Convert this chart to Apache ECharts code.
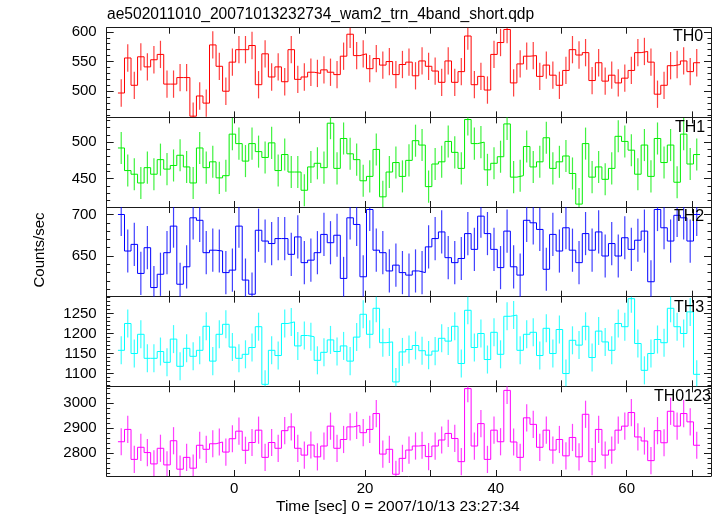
<!DOCTYPE html>
<html><head><meta charset="utf-8">
<script src="https://cdn.jsdelivr.net/npm/echarts@6/dist/echarts.min.js"></script>
<style>html,body{margin:0;padding:0;background:#fff}#c{width:717px;height:516px}</style>
</head><body><div id="c"></div>
<script>
// time bins (1 s bins)
const binStart = -17.28, binWidth = 1.0;
const th0 = [497,556,510,558,541,553,562,512,512,523, 523,458,492,480,578,542,500,549,570,570,
  577,511,563,524,541,516,570,520,524,532, 530,536,532,528,559,596,560,
  563,538,555,544,550,528,545,549,526,551, 542,534,515,551,515,533,593,511,525,502,
  562,582,604,514,546,559,560,525,544,527, 510,535,570,561,565,518,548,517,527,514,
  522,535,565,567,549,495,510,543,545,551, 533,548];
const th1 = [492,461,456,444,465,456,476,463,468,482, 466,444,492,465,473,451,454,511,498,474,
  498,487,479,499,461,483,459,459,434,466, 471,465,526,464,505,484,476,
  447,453,490,425,459,472,453,475,502,496, 439,470,473,501,486,464,531,498,500,462,
  471,480,525,452,454,494,466,473,506,464, 473,481,457,415,498,452,466,449,464,508,
  501,489,456,496,453,505,472,496,445,511, 470,483];
const th2 = [700,656,664,629,660,612,628,654,686,616, 637,696,693,654,657,656,630,633,686,621,
  604,681,668,665,671,671,652,673,642,645, 654,676,666,675,623,696,688,
  625,706,657,654,632,639,630,627,632,630, 661,671,679,648,642,647,677,658,698,677,
  658,636,680,637,627,693,690,682,634,676, 656,684,657,642,677,657,679,650,665,650,
  672,658,669,680,619,706,684,668,699,696, 668,700];
const th3 = [1158,1225,1150,1198,1138,1138,1155,1128,1186,1118, 1163,1143,1158,1218,1131,1198,1223,1166,1138,1148,
  1165,1217,1073,1158,1145,1225,1229,1169,1195,1192, 1133,1153,1184,1155,1169,1131,1191,
  1248,1198,1263,1177,1179,1079,1154,1160,1170,1157, 1146,1156,1188,1181,1218,1125,1258,1165,1200,1135,
  1203,1148,1243,1246,1158,1198,1203,1145,1213,1150, 1210,1100,1183,1171,1218,1140,1206,1179,1158,1225,
  1217,1287,1175,1108,1150,1185,1177,1263,1217,1200, 1254,1098];
const th0123 = [2846,2895,2776,2824,2803,2758,2820,2754,2850,2737, 2784,2741,2832,2816,2838,2845,2805,2858,2888,2812,
  2843,2892,2784,2843,2820,2890,2905,2820,2793,2833, 2786,2829,2908,2820,2855,2905,2911,
  2882,2895,2958,2797,2816,2717,2780,2813,2829,2832, 2787,2829,2853,2879,2859,2767,3057,2829,2918,2776,
  2892,2846,3050,2845,2784,2941,2915,2824,2892,2813, 2855,2790,2863,2786,2955,2767,2895,2793,2813,2892,
  2908,2962,2865,2849,2771,2890,2842,2967,2908,2958, 2925,2832];

const panelData = [th0, th1, th2, th3, th0123];
const panelNames = ['TH0','TH1','TH2','TH3','TH0123'];
const panelColors = ['#ff0000','#00ee00','#0000ff','#00ffff','#ff00ff'];
const panelErr = [23, 22, 26, 35, 54];
const yMin = [456, 411, 601, 1068, 2710];
const yMax = [607, 534, 709, 1292, 3066];
const yMajor = [[500,550,600],[450,500],[650,700],[1100,1150,1200,1250],[2800,2900,3000]];
const yMinorStep = [10, 10, 10, 10, 20];
const xMin = -19.5, xMax = 72.9;
const xTickVals = [-10,0,10,20,30,40,50,60,70];
const xLabelVals = [0,20,40,60];

const titleText = 'ae502011010_20071013232734_wam2_trn_4band_short.qdp';
const xName = 'Time [sec] 0 = 2007/10/13 23:27:34';
const yName = 'Counts/sec';

const labelPos = [[673,36.7],[675,127.8],[674,217],[674,307.5],[654,396.3]];

const FONT = 'Liberation Sans, Arial, Helvetica, sans-serif';
const lineCol = '#1a1a1a';
const gridTop = 27.7, gridH = 89.66, gridLeft = 106.7, gridRight = 6;
const plainNum = function (v) { return String(v); };

const grids = [], xAxes = [], yAxes = [], series = [], graphics = [];

for (let k = 0; k < 5; k++) {
  grids.push({left: gridLeft, right: gridRight, top: gridTop + gridH * k, height: gridH});
  const xBase = {
    gridIndex: k, type: 'value', min: xMin, max: xMax,
    axisLine: {show: true, onZero: false, lineStyle: {color: lineCol, width: 1}},
    axisTick: {show: true, inside: true, length: 6, customValues: xTickVals, lineStyle: {color: lineCol, width: 1}},
    splitLine: {show: false}
  };
  xAxes.push(Object.assign({}, xBase, {position: 'bottom',
    axisLabel: {show: k === 4, customValues: xLabelVals, formatter: plainNum, margin: 5, fontFamily: FONT, fontSize: 15, color: '#000'}}));
  xAxes.push(Object.assign({}, xBase, {position: 'top', axisLabel: {show: false}}));

  const minors = [];
  for (let v = Math.ceil(yMin[k] / yMinorStep[k]) * yMinorStep[k]; v <= yMax[k]; v += yMinorStep[k]) {
    if (yMajor[k].indexOf(v) < 0) minors.push(v);
  }
  const yBase = {gridIndex: k, type: 'value', min: yMin[k], max: yMax[k], splitLine: {show: false}};
  ['left', 'right'].forEach(function (pos) {
    yAxes.push(Object.assign({}, yBase, {position: pos,
      axisLine: {show: true, onZero: false, lineStyle: {color: lineCol, width: 1}},
      axisTick: {show: true, inside: true, length: 7, customValues: yMajor[k], lineStyle: {color: lineCol}},
      axisLabel: {show: pos === 'left', customValues: yMajor[k], formatter: plainNum, margin: 10, fontFamily: FONT, fontSize: 15, color: '#000'}}));
    yAxes.push(Object.assign({}, yBase, {position: pos,
      axisLine: {show: false, onZero: false},
      axisTick: {show: true, inside: true, length: 3.5, customValues: minors, lineStyle: {color: lineCol}},
      axisLabel: {show: false}}));
  });

  const vals = panelData[k];
  const stepPts = [];
  const errPts = [];
  vals.forEach(function (v, i) {
    const t = binStart + binWidth * i;
    stepPts.push([t - binWidth / 2, v]);
    stepPts.push([t + binWidth / 2, v]);
    errPts.push([t, v - panelErr[k], v + panelErr[k]]);
  });
  const col = panelColors[k];
  series.push({
    type: 'custom', xAxisIndex: 2 * k, yAxisIndex: 4 * k, data: errPts, silent: true,
    renderItem: function (params, api) {
      const cs = params.coordSys;
      const a = api.coord([api.value(0), api.value(1)]);
      const b = api.coord([api.value(0), api.value(2)]);
      const y1 = Math.min(Math.max(a[1], cs.y), cs.y + cs.height);
      const y2 = Math.min(Math.max(b[1], cs.y), cs.y + cs.height);
      return {type: 'line', shape: {x1: a[0], y1: y1, x2: b[0], y2: y2},
        style: {stroke: col, lineWidth: 1.2, opacity: 0.75}};
    }
  });
  series.push({
    type: 'line', xAxisIndex: 2 * k, yAxisIndex: 4 * k, data: stepPts,
    showSymbol: false, symbol: 'none', clip: true, silent: true,
    lineStyle: {color: col, width: 1}
  });
  graphics.push({type: 'text', x: labelPos[k][0], y: labelPos[k][1],
    style: {text: panelNames[k], font: '16px ' + FONT, fill: '#000', align: 'left', verticalAlign: 'middle'}, z: 100});
}

graphics.push({type: 'text', x: 107, y: 15, style: {text: titleText, font: '15.6px ' + FONT, fill: '#000', verticalAlign: 'middle'}});
graphics.push({type: 'text', x: 276, y: 506.5, style: {text: xName, font: '15.5px ' + FONT, fill: '#000', verticalAlign: 'middle'}});
graphics.push({type: 'text', x: 40, y: 250, rotation: Math.PI / 2, style: {text: yName, font: '15px ' + FONT, fill: '#000', align: 'center', verticalAlign: 'middle'}});

const chart = echarts.init(document.getElementById('c'), null, {renderer: 'canvas'});
chart.setOption({
  animation: false, backgroundColor: '#fff',
  grid: grids, xAxis: xAxes, yAxis: yAxes, series: series, graphic: graphics
});
</script></body></html>
